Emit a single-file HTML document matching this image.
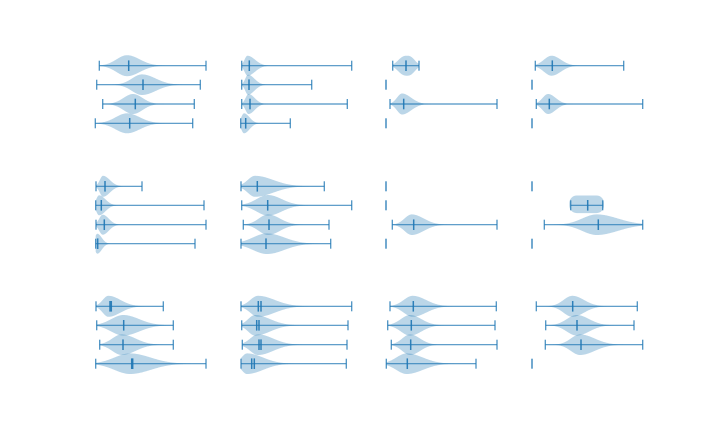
<!DOCTYPE html>
<html><head><meta charset="utf-8"><style>
html,body{margin:0;padding:0;background:#fff;}
svg{display:block;}
</style></head><body>
<svg id="s" width="720" height="432" xmlns="http://www.w3.org/2000/svg"></svg>
<script>
var V=[
[65.7,99.3,206,[128.7],127,104,155,10.5],
[84.7,96.7,200.3,[143],142,120,172,10.3],
[104,102.7,194.3,[135.3],133,112,154,10],
[123.3,95.3,192.7,[129.7],127,102,155,10],
[65.7,241.7,351.7,[249.3],247.5,241,264,10],
[84.7,241.7,311.7,[249],248,242,262,10],
[104,241.7,347.3,[250],248.5,242,262,10],
[123.3,240.7,290.3,[245.7],244,238,256,10],
[65.7,392.7,419,[406],407,389,423,10,2.6],
[104,390,497,[403.7],402,391,422,10.5],
[65.7,535.3,623.7,[552.3],551.5,535,572,10],
[104,536.3,642.7,[549.3],548,536,565,10],
[186.3,96,142,[105],103,96,118,10.5],
[205.3,95.7,204,[101.3],99,93,113,10],
[224.7,96,206,[104.3],102.7,95,116,10],
[243.7,95.7,195,[97.7],97.3,92,107,10],
[186.3,241,324.3,[257.3],255,239,295,10.5],
[205.3,241.7,351.7,[267.7],268,243,298,10.3],
[224.7,243.3,329,[269],268,248,294,10.3],
[243.7,241,330.7,[266],267,236,305,10.3],
[224.7,392.3,497,[413.7],411.7,396,438,10.3],
[224.7,544.3,642.7,[598.3],596.7,565,643,10.3],
[306.3,96,163.3,[110,111.3],108.3,96,135,10.5],
[325.3,96.7,173.3,[123.7],123.3,97,158,10.3],
[344.7,99.7,173.3,[123],121.7,101,152,10.3],
[363.7,95.7,206,[131.7,132.7],130,96,175,10.3],
[306.3,241,351.7,[258.3,261],258,241,295,10.5],
[325.3,241.7,348,[256.7,259],255,240,288,10.3],
[344.7,242.3,347,[259,261],258,241,291,10.3],
[363.7,241,346.3,[251.7,254.3],247,235,282,10.3],
[306.3,390,496.3,[413.3],412.7,393,442,10.5],
[325.3,387.7,495,[411.3],410,390,435,10.3],
[344.7,391.3,497,[410.7],410,393,432,10.3],
[363.7,386.3,476,[407.3],406.7,384,442,10.3],
[306.3,536.3,637.3,[572.7],572.3,553,598,10.5],
[325.3,545.7,634,[577],576.7,555,604,10.3],
[344.7,545.3,642.7,[581],580,560,612,10.3]
];
var L=[[386,84.7],[386,123.3],[532,84.7],[532,123.3],
[386,186.3],[386,205.3],[386,243.7],[532,186.3],[532,243.7],[532,363.7]];
var out='';
var C='#1f77b4';
function lines(y,mn,mx,ms){
  var o='';
  o+='<line x1="'+mn+'" y1="'+y+'" x2="'+mx+'" y2="'+y+'" stroke="'+C+'" stroke-opacity="0.8" stroke-width="1.2"/>';
  [mn,mx].forEach(function(x){
    o+='<line x1="'+x+'" y1="'+(y-5)+'" x2="'+x+'" y2="'+(y+5)+'" stroke="'+C+'" stroke-opacity="0.8" stroke-width="1.3"/>';
  });
  ms.forEach(function(x){
    o+='<line x1="'+x+'" y1="'+(y-5.3)+'" x2="'+x+'" y2="'+(y+5.3)+'" stroke="'+C+'" stroke-opacity="0.9" stroke-width="1.5"/>';
  });
  return o;
}
V.forEach(function(v){
  var y=v[0],mn=v[1],mx=v[2],ms=v[3],p=v[4],l=v[5],r=v[6],h=v[7],pw=v[8]||2;
  var k=2.2, sL=(p-l)/k, sR=(r-p)/k;
  var top=[],bot=[];
  var a=mn, b=mx;
  for(var x=a;x<=b+0.001;x+=0.5){
    var z=x<p?(p-x)/sL:(x-p)/sR;
    var w=h*Math.exp(-Math.pow(z,pw)/2);
    if(w<0.05) w=0.05;
    top.push(x.toFixed(2)+','+(y-w).toFixed(2));
    bot.unshift(x.toFixed(2)+','+(y+w).toFixed(2));
  }
  out+='<polygon points="'+top.concat(bot).join(' ')+'" fill="'+C+'" fill-opacity="0.3" stroke="none"/>';
  out+=lines(y,mn,mx,ms);
});
/* blob violin, col 4 row 2 */
out+='<rect x="569.3" y="195.5" width="34.7" height="17.6" rx="7.5" ry="7.5" fill="'+C+'" fill-opacity="0.3"/>';
out+=lines(205.3,570.7,602.7,[587.7]);
L.forEach(function(q){
  out+='<line x1="'+q[0]+'" y1="'+(q[1]-5)+'" x2="'+q[0]+'" y2="'+(q[1]+5)+'" stroke="'+C+'" stroke-opacity="0.9" stroke-width="1.4"/>';
});
document.getElementById('s').innerHTML=out;
</script>
</body></html>
